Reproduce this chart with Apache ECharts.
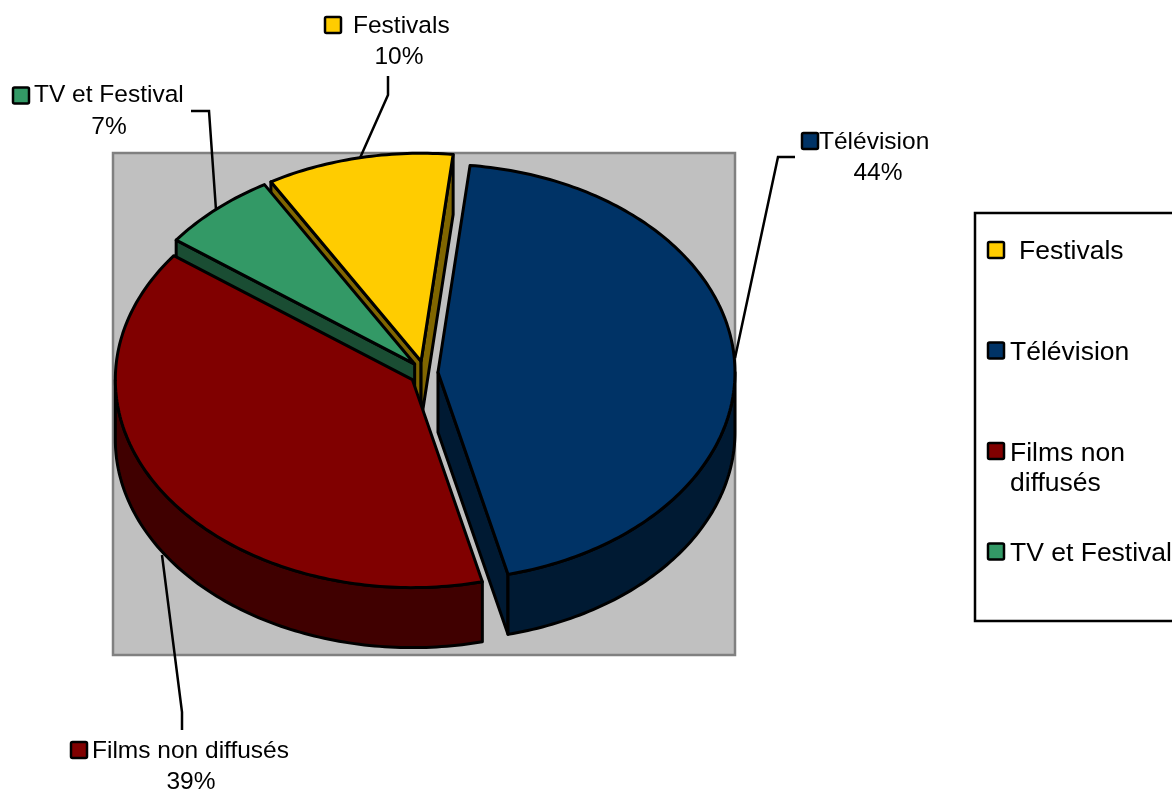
<!DOCTYPE html>
<html><head><meta charset="utf-8">
<style>html,body{margin:0;padding:0;background:#fff}#c{width:1172px;height:791px}</style>
<script src="https://cdn.jsdelivr.net/npm/echarts@6/dist/echarts.min.js"></script>
</head><body><div id="c"></div>
<script>
// Clockwise from the first slice
const categories = ['Télévision', 'Films non diffusés', 'TV et Festival', 'Festivals'];
const values = [44.49, 38.95, 6.4, 10.16];
const shownPercent = ['44%', '39%', '7%', '10%'];
const topColors = ['#003366', '#800000', '#339966', '#FFCC00'];
const sideColors = ['#001A33', '#400000', '#1A4D33', '#806600'];
const drawOrder = [3, 2, 0, 1];
const legendOrder = ['Festivals', 'Télévision', 'Films non\ndiffusés', 'TV et Festival'];
const legendColors = ['#FFCC00', '#003366', '#800000', '#339966'];
const titleText = 'ANNEE 2005';

const FONT = '"Liberation Sans", Arial, sans-serif';
const C = {cx: 424, cy: 373, rx: 297, ry: 208, depth: 60, startDeg: 6.2, ex: 14, ey: 12};
const total = values.reduce((a, b) => a + b, 0);
const rad = d => d * Math.PI / 180;
let acc = C.startDeg;
const spans = values.map(v => { const s = acc; acc += v / total * 360; return [s, acc]; });

function sliceGraphic(i) {
  const [a0, a1] = spans[i];
  const mid = rad((a0 + a1) / 2);
  const ax = C.cx + C.ex * Math.sin(mid), ay = C.cy - C.ey * Math.cos(mid);
  const pt = (deg, dz) => [ax + C.rx * Math.sin(rad(deg)), ay - C.ry * Math.cos(rad(deg)) + (dz || 0)];
  const arc = (from, to, dz) => { const n = Math.max(2, Math.ceil((to - from) / 1)); const out = [];
    for (let k = 0; k <= n; k++) out.push(pt(from + (to - from) * k / n, dz)); return out; };
  const style = (fill) => ({fill, stroke: '#000', lineWidth: 3, lineJoin: 'round'});
  const poly = (points, fill) => ({type: 'polygon', shape: {points}, style: style(fill)});
  const side = sideColors[i];
  const d = C.depth;
  const kids = [];
  // a cut face shows only when it looks towards the viewer
  if (Math.sin(rad(a0)) < 0) kids.push(poly([[ax, ay], pt(a0), pt(a0, d), [ax, ay + d]], side));
  if (Math.sin(rad(a1)) > 0) kids.push(poly([[ax, ay], pt(a1), pt(a1, d), [ax, ay + d]], side));
  [[90, 270], [450, 630]].forEach(([lo, hi]) => {
    const f = Math.max(a0, lo), t = Math.min(a1, hi);
    if (t > f) kids.push(poly(arc(f, t, 0).concat(arc(f, t, d).reverse()), side));
  });
  kids.push(poly([[ax, ay]].concat(arc(a0, a1, 0)), topColors[i]));
  return {type: 'group', children: kids};
}

const chart = echarts.init(document.getElementById('c'), null, {renderer: 'canvas'});

const label = (text, x, y, size, align) => ({type: 'text', z: 100, style: {
  text, x, y, font: (size || 24.5) + 'px ' + FONT, fill: '#000', textAlign: align || 'left', textVerticalAlign: 'middle'}});
const key = (cx, cy, fill, z) => ({type: 'rect', z: z || 100, shape: {x: cx - 8, y: cy - 8, width: 16, height: 16, r: 1.5},
  style: {fill, stroke: '#000', lineWidth: 2.5}});
const leader = pts => ({type: 'polyline', z: 100, shape: {points: pts}, style: {fill: 'none', stroke: '#000', lineWidth: 2.5}});

const g = [];
// plot wall
g.push({type: 'rect', z: -1, shape: {x: 113, y: 153, width: 622, height: 502}, style: {fill: '#C0C0C0', stroke: '#808080', lineWidth: 2.5}});
// title
g.push({type: 'text', z: 100, style: {text: titleText, x: 26, y: 9, font: 'bold 39px ' + FONT, fill: '#000', textAlign: 'left', textVerticalAlign: 'bottom'}});
// leaders
g.push(leader([[735, 358], [778, 157], [795, 157]]));
g.push(leader([[216, 210], [209, 111], [191, 111]]));
g.push(leader([[360, 158], [388, 95], [388, 76]]));
g.push(leader([[162, 555], [182, 712], [182, 730]]));
// data labels
g.push(key(333, 25, topColors[3]), label(categories[3], 353, 26), label(shownPercent[3], 399, 57, 24.5, 'center'));
g.push(key(810, 141, topColors[0]), label(categories[0], 819, 142), label(shownPercent[0], 878, 173, 24.5, 'center'));
g.push(key(21, 95.5, topColors[2]), label(categories[2], 34, 95), label(shownPercent[2], 109, 127, 24.5, 'center'));
g.push(key(79, 750, topColors[1]), label(categories[1], 92, 751), label(shownPercent[1], 191, 782, 24.5, 'center'));
// legend box
g.push({type: 'rect', z: 100, shape: {x: 975, y: 213, width: 230, height: 408}, style: {fill: '#fff', stroke: '#000', lineWidth: 2.5}});
const lx = [1019, 1010, 1010, 1010], keyY = [250, 350.5, 451, 551.5], textY = [252, 353, 454, 554];
legendOrder.forEach((t, i) => {
  g.push(key(996, keyY[i], legendColors[i], 101));
  t.split('\n').forEach((s, k) => g.push(Object.assign(label(s, lx[i], textY[i] + k * 30, 26.5), {z: 101})));
});

chart.setOption({
  animation: false,
  backgroundColor: '#fff',
  graphic: {elements: g},
  series: [{
    type: 'custom', coordinateSystem: 'none', silent: true, clip: false, z: 5,
    data: drawOrder.map(i => ({name: categories[i], value: values[i]})),
    renderItem: params => sliceGraphic(drawOrder[params.dataIndex])
  }]
});
</script></body></html>
